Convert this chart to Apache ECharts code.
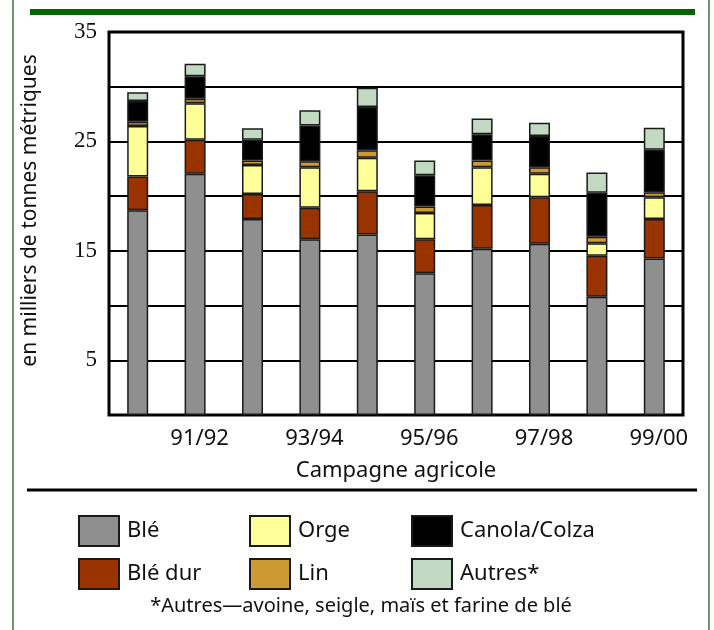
<!DOCTYPE html>
<html>
<head>
<meta charset="utf-8">
<script src="https://cdn.jsdelivr.net/npm/echarts@6/dist/echarts.min.js"></script>
<style>
  html, body { margin: 0; padding: 0; background: #fff; }
  #chart { width: 714px; height: 630px; }
</style>
</head>
<body>
<div id="chart"></div>
<script>
// campagnes agricoles
var campagnes = ["90/91", "91/92", "92/93", "93/94", "94/95", "95/96", "96/97", "97/98", "98/99", "99/00"];
// millions de tonnes
var ble = [18.7, 22.05, 17.9, 16.05, 16.5, 12.95, 15.2, 15.65, 10.8, 14.3];
var bleDur = [3.1, 3.1, 2.3, 2.9, 3.95, 3.1, 4.0, 4.25, 3.75, 3.6];
var orge = [4.6, 3.35, 2.65, 3.7, 3.05, 2.4, 3.45, 2.15, 1.15, 2.0];
var lin = [0.4, 0.4, 0.4, 0.55, 0.7, 0.6, 0.6, 0.6, 0.6, 0.45];
var canola = [1.9, 2.05, 1.9, 3.25, 3.95, 2.85, 2.4, 2.85, 4.0, 3.9];
var autres = [0.8, 1.15, 1.05, 1.4, 1.75, 1.35, 1.45, 1.2, 1.85, 2.0];
var yTicks = [5, 15, 25, 35];

var sans = "Noto Sans";
var myChart = echarts.init(document.getElementById("chart"));

function serie(name, data, color) {
  return {
    name: name,
    type: "bar",
    stack: "total",
    barWidth: 21,
    data: data,
    itemStyle: { color: color, borderColor: "#1a1a1a", borderWidth: 1.5 }
  };
}

function legende(left, names) {
  return {
    orient: "vertical",
    left: left,
    top: 515,
    padding: 0,
    itemWidth: 40,
    itemHeight: 30,
    itemGap: 11,
    selectedMode: false,
    icon: "rect",
    data: names,
    textStyle: { fontFamily: sans, fontSize: 22, color: "#111", padding: [0, 0, 0, 3] }
  };
}

myChart.setOption({
  animation: false,
  backgroundColor: "#fff",
  title: {
    text: "*Autres\u2014avoine, seigle, maïs et farine de blé",
    left: 361,
    top: 596,
    textAlign: "center",
    padding: 0,
    textStyle: { fontFamily: sans, fontSize: 20, fontWeight: "normal", color: "#111" }
  },
  legend: [
    legende(78, ["Blé", "Blé dur"]),
    legende(249, ["Orge", "Lin"]),
    legende(411, ["Canola/Colza", "Autres*"])
  ],
  grid: {
    left: 109,
    right: 714 - 683,
    top: 32,
    bottom: 630 - 415,
    show: true,
    borderColor: "#000",
    borderWidth: 3
  },
  xAxis: {
    type: "category",
    data: campagnes,
    name: "Campagne agricole",
    nameLocation: "middle",
    nameGap: 45,
    nameTextStyle: { fontFamily: sans, fontSize: 22, color: "#111" },
    axisLine: { show: false },
    axisTick: { show: false },
    axisLabel: {
      interval: function (index) { return index % 2 === 1; },
      margin: 13,
      padding: [0, 0, 0, 9],
      fontFamily: sans,
      fontSize: 22,
      color: "#111"
    }
  },
  yAxis: {
    type: "value",
    min: 0,
    max: 35,
    interval: 5,
    name: "en milliers de tonnes métriques",
    nameLocation: "middle",
    nameGap: 68,
    nameTextStyle: { fontFamily: sans, fontSize: 21, color: "#111", padding: [0, 0, 0, 26] },
    axisLine: { show: false },
    axisTick: { show: false },
    axisLabel: {
      margin: 12,
      fontFamily: "Liberation Serif",
      fontSize: 23,
      color: "#111",
      formatter: function (v) { return yTicks.indexOf(v) >= 0 ? String(v) : ""; }
    },
    splitLine: { lineStyle: { color: "#000", width: 2 } }
  },
  series: [
    serie("Blé", ble, "#8f8f8f"),
    serie("Blé dur", bleDur, "#993300"),
    serie("Orge", orge, "#ffff99"),
    serie("Lin", lin, "#cc9933"),
    serie("Canola/Colza", canola, "#000000"),
    serie("Autres*", autres, "#c2dac2")
  ],
  graphic: [
    // cadre vert et filets
    { type: "line", shape: { x1: 13, y1: 0, x2: 13, y2: 630 }, style: { stroke: "#3d7a3d", lineWidth: 1.5 } },
    { type: "line", shape: { x1: 709, y1: 0, x2: 709, y2: 630 }, style: { stroke: "#3d7a3d", lineWidth: 1.5 } },
    { type: "rect", shape: { x: 30, y: 9, width: 665, height: 6 }, style: { fill: "#006600" } },
    { type: "line", shape: { x1: 27, y1: 490, x2: 697, y2: 490 }, style: { stroke: "#000", lineWidth: 3 } }
  ]
});
</script>
</body>
</html>
